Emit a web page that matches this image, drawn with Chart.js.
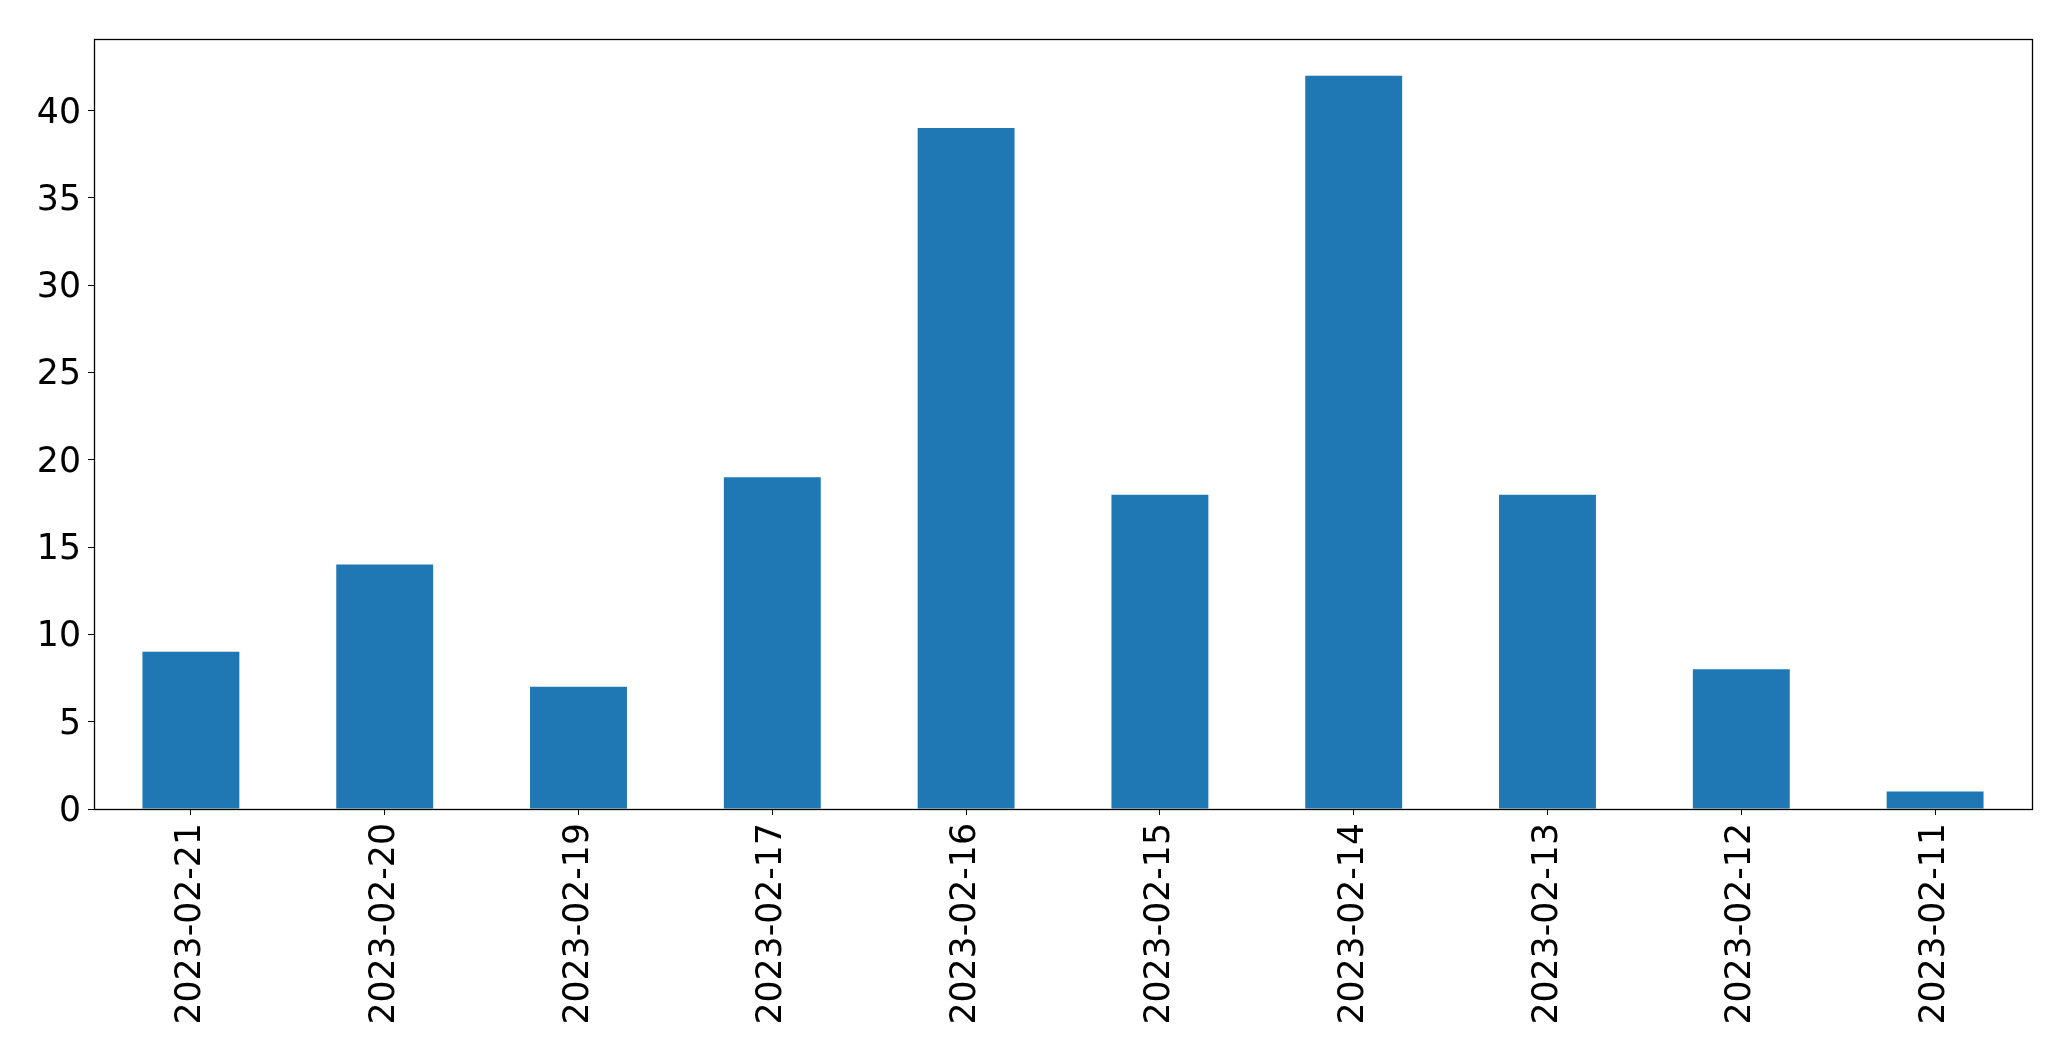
<!DOCTYPE html>
<html>
<head>
<meta charset="utf-8">
<script src="https://cdn.jsdelivr.net/npm/chart.js@4.4.0/dist/chart.umd.min.js"></script>
<style>
html,body{margin:0;padding:0;background:#fff;overflow:hidden;}
#wrap{width:2071px;height:1061px;position:relative;}
</style>
</head>
<body>
<div id="wrap"><canvas id="c" width="2071" height="1061"></canvas></div>
<script>
const categories = ["2023-02-21","2023-02-20","2023-02-19","2023-02-17","2023-02-16","2023-02-15","2023-02-14","2023-02-13","2023-02-12","2023-02-11"];
const counts = [9, 14, 7, 19, 39, 18, 42, 18, 8, 1];
const yTicks = [0, 5, 10, 15, 20, 25, 30, 35, 40];
const yMax = 44.1;

const frame = {
  id: 'frame',
  afterDraw(chart) {
    const a = chart.chartArea, ctx = chart.ctx;
    ctx.save();
    ctx.strokeStyle = '#000';
    ctx.lineWidth = 1.3;
    ctx.strokeRect(Math.round(a.left) + 0.5, Math.round(a.top) + 0.5, Math.round(a.right - a.left), Math.round(a.bottom - a.top));
    ctx.restore();
  }
};

const font = {family: 'DejaVu Sans', size: 34.7};
new Chart(document.getElementById('c'), {
  type: 'bar',
  data: {
    labels: categories,
    datasets: [{data: counts, backgroundColor: '#1f77b4', borderWidth: 0, barPercentage: 0.5, categoryPercentage: 1.0}]
  },
  options: {
    responsive: false,
    animation: false,
    devicePixelRatio: 1,
    layout: {padding: {left: 0, top: 39, right: 39, bottom: 0}},
    plugins: {legend: {display: false}, tooltip: {enabled: false}},
    scales: {
      x: {
        offset: true,
        grid: {display: true, drawOnChartArea: false, tickLength: 6, color: '#000', offset: false},
        border: {display: false},
        ticks: {font: font, color: '#000', minRotation: 90, maxRotation: 90, autoSkip: false, padding: 8},
        afterFit(s) { s.height = 1061 - 809; }
      },
      y: {
        min: 0, max: yMax,
        grid: {display: true, drawOnChartArea: false, tickLength: 6, color: '#000'},
        border: {display: false},
        ticks: {font: font, color: '#000', padding: 7, labelOffset: 3, includeBounds: false},
        afterBuildTicks(s) { s.ticks = yTicks.map(v => ({value: v})); },
        afterFit(s) { s.width = 94; }
      }
    }
  },
  plugins: [frame]
});
</script>
</body>
</html>
